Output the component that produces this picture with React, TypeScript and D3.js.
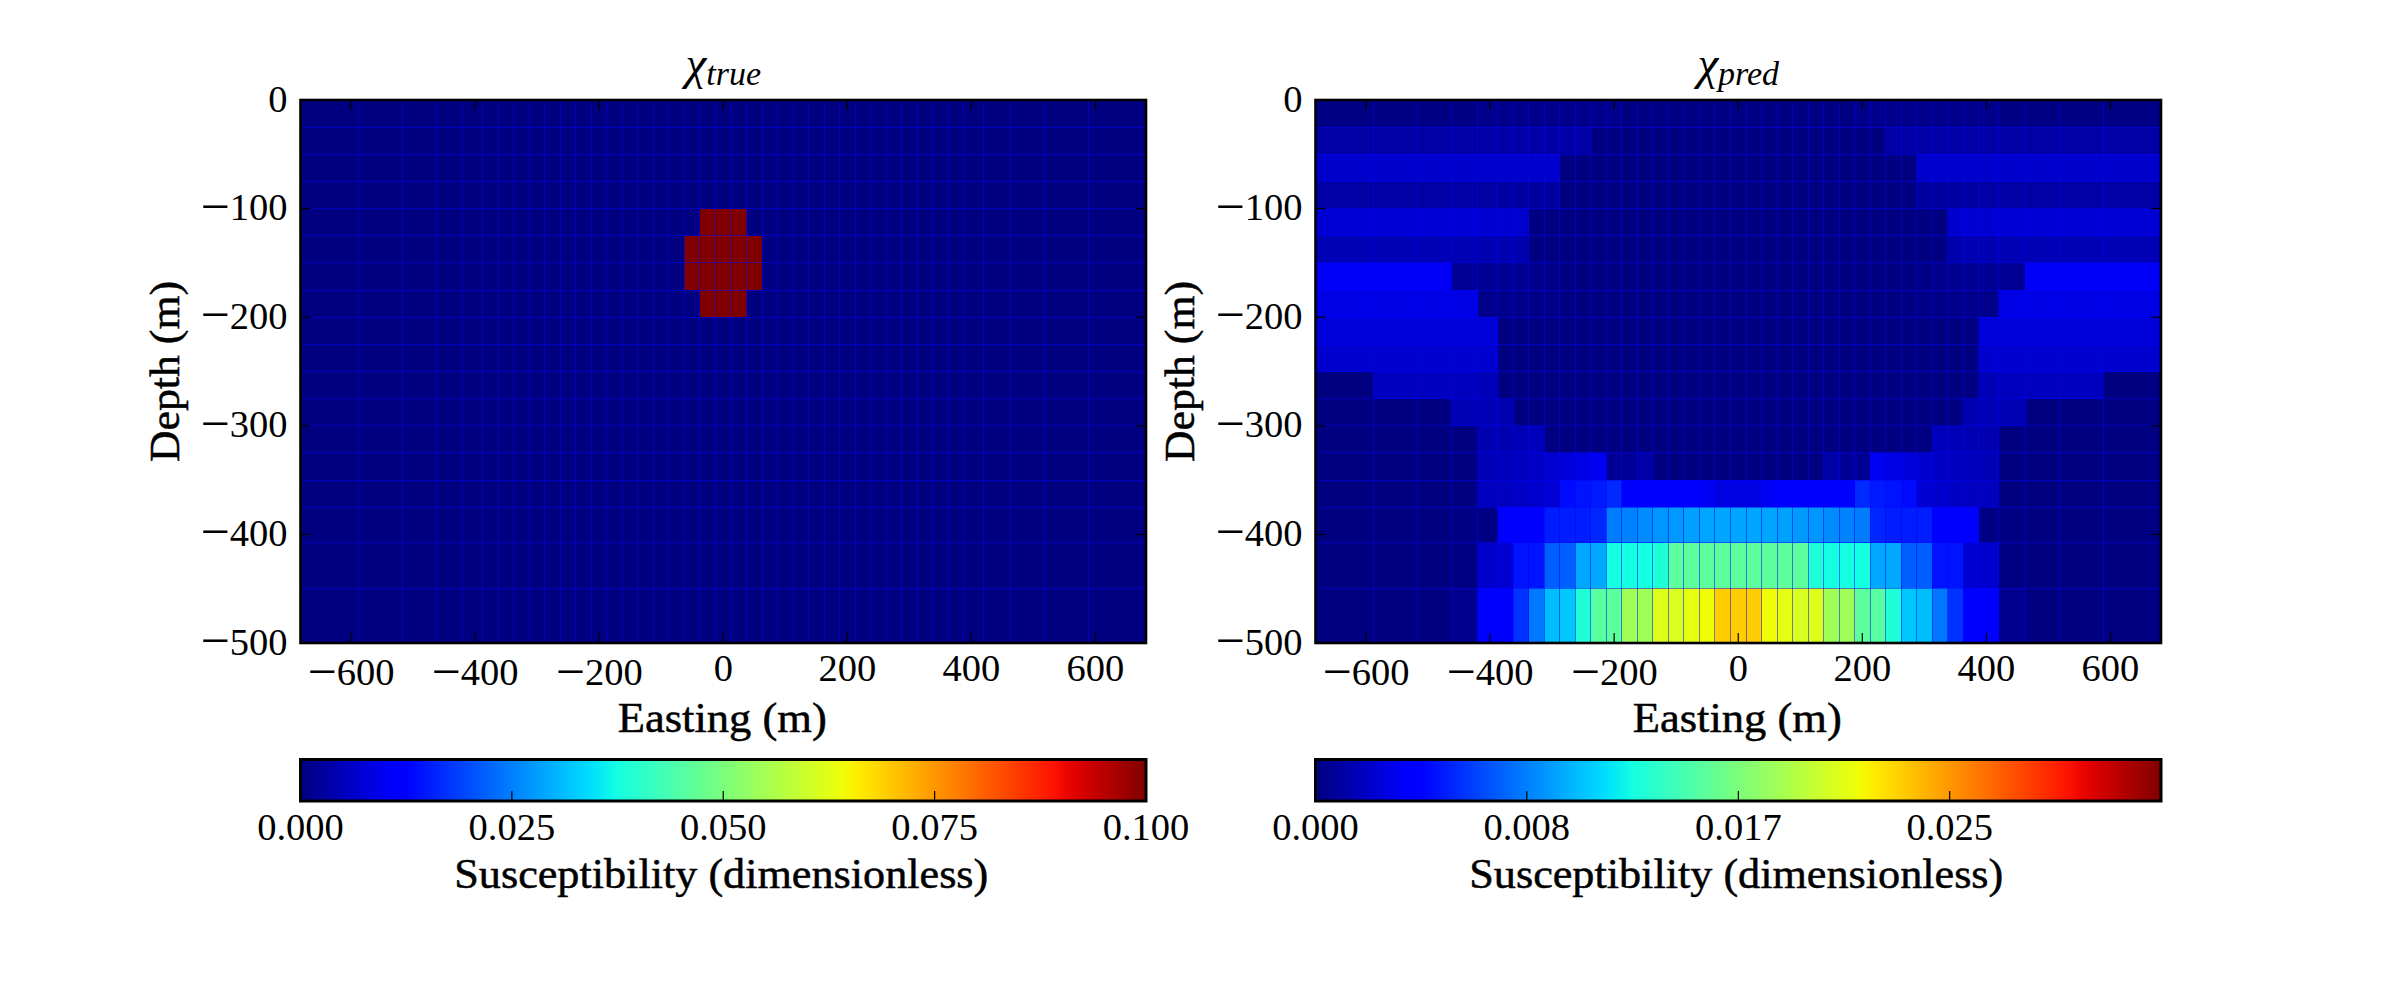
import * as d3 from "d3";
import React, { useEffect, useRef } from "react";

// cell edges of the mesh (m)
const eastingEdges = [
  -681.4, -588.6, -517.2, -462.25, -420, -387.5, -362.5, -337.5, -312.5, -287.5, -262.5, -237.5,
  -212.5, -187.5, -162.5, -137.5, -112.5, -87.5, -62.5, -37.5, -12.5, 12.5, 37.5, 62.5, 87.5,
  112.5, 137.5, 162.5, 187.5, 212.5, 237.5, 262.5, 287.5, 312.5, 337.5, 362.5, 387.5, 420, 462.25,
  517.2, 588.6, 681.4,
];
const depthEdges = [
  0, -25, -50, -75, -100, -125, -150, -175, -200, -225, -250, -275, -300, -325, -350, -375, -407.5,
  -449.75, -500,
];

// true model: background is zero, anomaly cells as [row, first col, last col]
const trueAnomaly = [
  [4, 19, 21],
  [5, 18, 22],
  [6, 18, 22],
  [7, 19, 21],
];
const trueAnomalyValue = 0.1;

// recovered model, units of 1e-3, one line per depth row
const predRows = [
  [.15,.15,.15,.15,.3,.3,.3,.3,.3,.3,.3,.3,.3,.1,.1,.1,.1,.1,.1,.1,.1,.1,.1,.1,.1,.1,.1,.1,.3,.3,.3,.3,.3,.3,.3,.3,.3,.15,.15,.15,.15],
  [1.05,1.05,1.05,1.05,1.1,1.1,1.1,1.1,1.1,1.1,1.1,.05,.05,.05,.05,.05,.05,.05,.05,.05,.05,.05,.05,.05,.05,.05,.05,.05,.05,.05,1.1,1.1,1.1,1.1,1.1,1.1,1.1,1.05,1.05,1.05,1.05],
  [2.2,2.2,2.2,2.2,2.2,2.2,2.2,2.2,2.2,.05,.05,.05,.05,.05,.05,.05,.05,.05,.05,.05,.05,.05,.05,.05,.05,.05,.05,.05,.05,.05,.05,.05,2.2,2.2,2.2,2.2,2.2,2.2,2.2,2.2,2.2],
  [1.05,1.05,1.05,1.05,1.05,1,.95,.95,.95,.05,.05,.05,.05,.05,.05,.05,.05,.05,.05,.05,.05,.05,.05,.05,.05,.05,.05,.05,.05,.05,.05,.05,.95,.95,.95,1,1.05,1.05,1.05,1.05,1.05],
  [2.5,2.5,2.5,2.5,2.4,2.4,2.3,.05,.05,.05,.05,.05,.05,.05,.05,.05,.05,.05,.05,.05,.05,.05,.05,.05,.05,.05,.05,.05,.05,.05,.05,.05,.05,.05,2.3,2.4,2.4,2.5,2.5,2.5,2.5],
  [1.5,1.55,1.55,1.5,1.4,1.4,1.3,.05,.05,.05,.05,.05,.05,.05,.05,.05,.05,.05,.05,.05,.05,.05,.05,.05,.05,.05,.05,.05,.05,.05,.05,.05,.05,.05,1.3,1.4,1.4,1.5,1.55,1.55,1.5],
  [3.5,3.5,3.5,.65,.6,.55,.5,.3,.2,.1,.05,.05,.05,.05,.05,.05,.05,.05,.05,.05,.05,.05,.05,.05,.05,.05,.05,.05,.05,.05,.05,.1,.2,.3,.5,.55,.6,.65,3.5,3.5,3.5],
  [2.95,2.95,2.95,2.95,.3,.3,.3,.2,.2,.1,.05,.05,.05,.05,.05,.05,.05,.05,.05,.05,.05,.05,.05,.05,.05,.05,.05,.05,.05,.05,.05,.1,.2,.2,.3,.3,.3,2.95,2.95,2.95,2.95],
  [2.6,2.6,2.6,2.6,2.6,.05,.05,.05,.05,.05,.05,.05,.05,.05,.05,.05,.05,.05,.05,.05,.05,.05,.05,.05,.05,.05,.05,.05,.05,.05,.05,.05,.05,.05,.05,.05,2.6,2.6,2.6,2.6,2.6],
  [2.3,2.3,2.3,2.3,2.3,.05,.05,.05,.05,.05,.05,.05,.05,.05,.05,.05,.05,.05,.05,.05,.05,.05,.05,.05,.05,.05,.05,.05,.05,.05,.05,.05,.05,.05,.05,.05,2.3,2.3,2.3,2.3,2.3],
  [.05,1.8,1.8,1.8,1.6,.05,.05,.05,.05,.05,.05,.05,.05,.05,.05,.05,.05,.05,.05,.05,.05,.05,.05,.05,.05,.05,.05,.05,.05,.05,.05,.05,.05,.05,.05,.05,1.6,1.8,1.8,1.8,.05],
  [.05,.05,.05,1.5,1.5,1.4,.05,.05,.05,.05,.05,.05,.05,.05,.05,.05,.05,.05,.05,.05,.05,.05,.05,.05,.05,.05,.05,.05,.05,.05,.05,.05,.05,.05,.05,1.4,1.5,1.5,.05,.05,.05],
  [.05,.05,.05,.05,1.4,1.4,1.6,1.7,.05,.05,.05,.05,.05,.05,.05,.05,.05,.05,.05,.05,.05,.05,.05,.05,.05,.05,.05,.05,.05,.05,.05,.05,.05,1.7,1.6,1.4,1.4,.05,.05,.05,.05],
  [.05,.05,.05,.05,1.6,1.7,1.8,1.9,2.3,2.6,2.9,3.3,.6,.7,1.2,.05,.05,.05,.05,.05,.05,.05,.05,.05,.05,.05,1.2,.7,.6,3.3,2.9,2.6,2.3,1.9,1.8,1.7,1.6,.05,.05,.05,.05],
  [.05,.05,.05,.05,1.8,1.8,2,2.2,2.4,4.5,4.8,5,5.5,3.8,3.8,3.9,3.9,3.7,3.4,2.8,2.8,2.8,3.4,3.7,3.9,3.9,3.8,3.8,5.5,5,4.8,4.5,2.4,2.2,2,1.8,1.8,.05,.05,.05,.05],
  [.05,.05,.05,.1,.15,3.7,3.7,3.7,5.1,5.1,5.1,5.4,8.25,8.4,8.7,9.07,9.2,9.4,9.55,9.6,9.6,9.6,9.55,9.4,9.2,9.07,8.7,8.4,8.25,5.4,5.1,5.1,5.1,3.7,3.7,3.7,.15,.1,.05,.05,.05],
  [.05,.05,.05,.1,2.2,2.4,4.8,4.8,7.27,7.27,9.7,9.7,12.5,12.5,12.5,12.9,15.4,15.4,15.4,15.4,15.4,15.4,15.4,15.4,15.4,12.9,12.5,12.5,12.5,9.7,9.7,7.27,7.27,4.8,4.8,2.4,2.2,.1,.05,.05,.05],
  [.05,.05,.05,.5,3.7,3.7,5.8,8.1,10.4,10.7,12.9,15.2,15.4,18.15,18.15,20.6,20.4,21,21.4,23.1,23.1,23.1,21.4,21,20.4,20.6,18.15,18.15,15.4,15.2,12.9,10.7,10.4,8.1,5.8,3.7,3.7,.5,.05,.05,.05],
];

const xTicks = [-600, -400, -200, 0, 200, 400, 600];
const yTicks = [0, -100, -200, -300, -400, -500];
const trueBarTicks = [0, 0.025, 0.05, 0.075, 0.1];
const trueBarLabels = ["0.000", "0.025", "0.050", "0.075", "0.100"];
const predBarMax = 0.03333;
const predBarTicks = [0, 0.00833, 0.01667, 0.025];
const predBarLabels = ["0.000", "0.008", "0.017", "0.025"];

// matplotlib's jet, channel by channel
const jetR = d3.scaleLinear([0, 0.35, 0.66, 0.89, 1], [0, 0, 1, 1, 0.5]);
const jetG = d3.scaleLinear([0, 0.125, 0.375, 0.64, 0.91, 1], [0, 0, 1, 1, 0, 0]);
const jetB = d3.scaleLinear([0, 0.11, 0.34, 0.65, 1], [0.5, 1, 1, 0, 0]);
const jet = (t: number) =>
  `rgb(${Math.round(jetR(t) * 255)},${Math.round(jetG(t) * 255)},${Math.round(jetB(t) * 255)})`;

const FONT = "'Liberation Serif', serif";
const TICK_SIZE = 38.5;
const LABEL_SIZE = 42;

// tick label with a long TeX-looking minus
function tickLabel(
  sel: d3.Selection<SVGGElement, unknown, null, undefined>,
  n: number,
  px: number,
  py: number,
  anchor: string
) {
  const t = sel.append("text").attr("x", px).attr("y", py).attr("text-anchor", anchor);
  if (n < 0) {
    t.append("tspan").attr("font-size", 52).attr("dy", 3.5).text("\u2212");
    t.append("tspan").attr("dy", -3.5).text(`${-n}`);
  } else {
    t.text(`${n}`);
  }
}

function drawPanel(
  svg: d3.Selection<SVGSVGElement, unknown, null, undefined>,
  opts: {
    id: string;
    left: number;
    rows: number[][];
    vmax: number;
    sub: string;
    barTicks: number[];
    barLabels: string[];
  }
) {
  const { id, left, rows, vmax, sub, barTicks, barLabels } = opts;
  const width = 845.5,
    top = 100,
    bottom = 643,
    barTop = 759.5,
    barBottom = 801;

  const x = d3.scaleLinear([-681.4, 681.4], [left, left + width]);
  const y = d3.scaleLinear([-500, 0], [bottom, top]);
  const c = d3.scaleLinear([0, vmax], [0, 1]).clamp(true);

  const g = svg.append("g");

  const cells = rows.flatMap((row, r) => row.map((v, i) => ({ r, i, v })));
  g.append("g")
    .selectAll("rect")
    .data(cells)
    .enter()
    .append("rect")
    .attr("x", (d) => x(eastingEdges[d.i]))
    .attr("y", (d) => y(depthEdges[d.r]))
    .attr("width", (d) => x(eastingEdges[d.i + 1]) - x(eastingEdges[d.i]))
    .attr("height", (d) => y(depthEdges[d.r + 1]) - y(depthEdges[d.r]))
    .attr("fill", (d) => jet(c(d.v)))
    .attr("shape-rendering", "crispEdges");

  // mesh lines, half transparent blue
  const grid = g
    .append("g")
    .attr("stroke", "#0000ff")
    .attr("stroke-opacity", 0.5)
    .attr("stroke-width", 1)
    .attr("shape-rendering", "crispEdges");
  grid
    .selectAll("line.v")
    .data(eastingEdges.slice(1, -1))
    .enter()
    .append("line")
    .attr("x1", (d) => x(d))
    .attr("x2", (d) => x(d))
    .attr("y1", top)
    .attr("y2", bottom);
  grid
    .selectAll("line.h")
    .data(depthEdges.slice(1, -1))
    .enter()
    .append("line")
    .attr("y1", (d) => y(d))
    .attr("y2", (d) => y(d))
    .attr("x1", left)
    .attr("x2", left + width);

  // ticks point inwards
  const ticks = g.append("g").attr("stroke", "#000").attr("stroke-width", 1.2);
  xTicks.forEach((t) => {
    ticks.append("line").attr("x1", x(t)).attr("x2", x(t)).attr("y1", top).attr("y2", top + 10);
    ticks.append("line").attr("x1", x(t)).attr("x2", x(t)).attr("y1", bottom).attr("y2", bottom - 10);
  });
  yTicks.slice(1, -1).forEach((t) => {
    ticks.append("line").attr("y1", y(t)).attr("y2", y(t)).attr("x1", left).attr("x2", left + 10);
    ticks.append("line").attr("y1", y(t)).attr("y2", y(t)).attr("x1", left + width).attr("x2", left + width - 10);
  });

  g.append("rect")
    .attr("x", left)
    .attr("y", top)
    .attr("width", width)
    .attr("height", bottom - top)
    .attr("fill", "none")
    .attr("stroke", "#000")
    .attr("stroke-width", 2.6);

  const text = g.append("g").attr("font-family", FONT).attr("font-size", TICK_SIZE).attr("fill", "#000");

  xTicks.forEach((t) => tickLabel(text, t, x(t), t < 0 ? 685 : 681, "middle"));
  yTicks.forEach((t) => tickLabel(text, t, left - 13, y(t) + 11.5, "end"));

  const label = text
    .append("g")
    .attr("font-size", LABEL_SIZE)
    .attr("stroke", "#000")
    .attr("stroke-width", 0.5)
    .attr("text-anchor", "middle");

  label
    .append("text")
    .attr("x", left + width / 2 - 1)
    .attr("y", 732)
    .attr("textLength", 209)
    .attr("lengthAdjust", "spacingAndGlyphs")
    .text("Easting (m)");
  label
    .append("text")
    .attr("transform", `translate(${left - 122},${(top + bottom) / 2}) rotate(-90)`)
    .attr("textLength", 181)
    .attr("lengthAdjust", "spacingAndGlyphs")
    .text("Depth (m)");
  label
    .append("text")
    .attr("x", left + width / 2 - 2)
    .attr("y", 888)
    .attr("textLength", 534)
    .attr("lengthAdjust", "spacingAndGlyphs")
    .text("Susceptibility (dimensionless)");

  const title = text
    .append("text")
    .attr("x", left + width / 2)
    .attr("y", 79)
    .attr("text-anchor", "middle")
    .attr("font-style", "italic");
  title.append("tspan").attr("font-size", 47).text("\u03c7");
  title.append("tspan").attr("font-size", 34).attr("dy", 6).text(sub);

  // colour bar
  const gradId = `jet-${id}`;
  const grad = svg
    .append("defs")
    .append("linearGradient")
    .attr("id", gradId)
    .attr("x1", 0)
    .attr("x2", 1)
    .attr("y1", 0)
    .attr("y2", 0);
  d3.range(0, 257, 4).forEach((k) => {
    grad
      .append("stop")
      .attr("offset", k / 256)
      .attr("stop-color", jet(k / 256));
  });

  const bar = d3.scaleLinear([0, vmax], [left, left + width]);
  g.append("rect")
    .attr("x", left)
    .attr("y", barTop)
    .attr("width", width)
    .attr("height", barBottom - barTop)
    .attr("fill", `url(#${gradId})`)
    .attr("stroke", "#000")
    .attr("stroke-width", 3);

  barTicks.forEach((t, i) => {
    if (t > 0 && t < vmax) {
      g.append("line")
        .attr("x1", bar(t))
        .attr("x2", bar(t))
        .attr("y1", barBottom)
        .attr("y2", barBottom - 10)
        .attr("stroke", "#000")
        .attr("stroke-width", 1.2);
    }
    text
      .append("text")
      .attr("x", bar(t))
      .attr("y", 840)
      .attr("text-anchor", "middle")
      .text(barLabels[i]);
  });
}

const App = () => {
  const svgRef = useRef<SVGSVGElement>(null);

  useEffect(() => {
    const svg = d3.select(svgRef.current as SVGSVGElement);
    svg.selectAll("*").remove();

    const trueRows = depthEdges.slice(1).map((_, r) =>
      eastingEdges.slice(1).map((_, i) =>
        trueAnomaly.some(([row, a, b]) => row === r && i >= a && i <= b) ? trueAnomalyValue : 0
      )
    );

    drawPanel(svg, {
      id: "true",
      left: 300.5,
      rows: trueRows,
      vmax: 0.1,
      sub: "true",
      barTicks: trueBarTicks,
      barLabels: trueBarLabels,
    });
    drawPanel(svg, {
      id: "pred",
      left: 1315.5,
      rows: predRows.map((row) => row.map((v) => v / 1000)),
      vmax: predBarMax,
      sub: "pred",
      barTicks: predBarTicks,
      barLabels: predBarLabels,
    });
  }, []);

  return (
    <svg
      ref={svgRef}
      width={2400}
      height={1000}
      style={{ position: "absolute", left: 0, top: 0, background: "#fff" }}
    ></svg>
  );
};

export default App;
